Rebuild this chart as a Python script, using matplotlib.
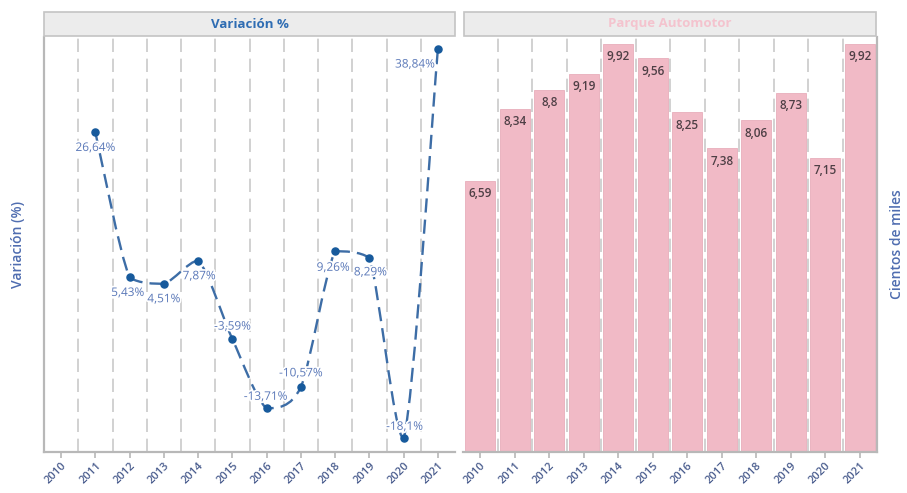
import matplotlib
matplotlib.use("Agg")
import matplotlib.pyplot as plt
import matplotlib.patheffects as pe
from matplotlib.path import Path
from matplotlib.patches import PathPatch, Rectangle

plt.rcParams["font.family"] = ["Open Sans", "DejaVu Sans"]

# ---- data
years = [str(y) for y in range(2010, 2022)]
variation = [None, 26.64, 5.43, 4.51, 7.87, -3.59, -13.71, -10.57, 9.26, 8.29, -18.1, 38.84]
fleet = [6.59, 8.34, 8.8, 9.19, 9.92, 9.56, 8.25, 7.38, 8.06, 8.73, 7.15, 9.92]

W, H = 907, 493
fig = plt.figure(figsize=(W / 100, H / 100), dpi=100)


def box(x0, y0, x1, y1):
    """pixel box (top-left origin) -> figure fraction rect"""
    return [x0 / W, 1 - y1 / H, (x1 - x0) / W, (y1 - y0) / H]


def comma(v):
    return str(v).replace(".", ",")


def smooth_path(xs, ys, k=0.14):
    # bezier through the points, control handles clamped so the curve
    # never goes past the neighbouring values
    verts = [(xs[0], ys[0])]
    codes = [Path.MOVETO]
    n = len(xs)
    for i in range(n - 1):
        x0, y0 = (xs[i - 1], ys[i - 1]) if i > 0 else (xs[i], ys[i])
        x1, y1 = xs[i], ys[i]
        x2, y2 = xs[i + 1], ys[i + 1]
        x3, y3 = (xs[i + 2], ys[i + 2]) if i + 2 < n else (x2, y2)
        lo, hi = min(y1, y2), max(y1, y2)
        c1 = (x1 + (x2 - x0) * k, min(max(y1 + (y2 - y0) * k, lo), hi))
        c2 = (x2 - (x3 - x1) * k, min(max(y2 - (y3 - y1) * k, lo), hi))
        verts += [c1, c2, (x2, y2)]
        codes += [Path.CURVE4] * 3
    return Path(verts, codes)


grid_kw = dict(color="#c9c9c9", lw=1.2, dashes=(8, 4), zorder=1)
tick_color = "#4a5d8e"
spine_color = "#b8b8b8"

# ======================  Variación %  ======================
ax1 = fig.add_axes(box(44, 37, 455, 452))
xs = [i for i, v in enumerate(variation) if v is not None]
ys = [v for v in variation if v is not None]

for b in range(1, len(years)):
    ax1.axvline(b - 0.5, **grid_kw)

line = PathPatch(smooth_path(xs, ys), facecolor="none", edgecolor="#3d6da6",
                 lw=1.7, linestyle=(0, (6, 3)), zorder=3)
ax1.add_patch(line)
ax1.scatter(xs, ys, s=26, color="#175a9c", zorder=4)

label_off = [(0, -15), (-2, -15), (0, -15), (1, -15), (0, 13), (-1, 12),
             (0, 14), (-2, -16), (1, -14), (1, 12), (-23, -15)]
for (x, y), (dx, dy) in zip(zip(xs, ys), label_off):
    ax1.annotate(comma(y) + "%", (x, y), xytext=(dx, dy), textcoords="offset pixels",
                 ha="center", va="center", fontsize=8.5, color="#5a78b8", zorder=5,
                 path_effects=[pe.withStroke(linewidth=2.5, foreground="white")])

ax1.set_xlim(-0.5, len(years) - 0.5)
ax1.set_ylim(-20.1, 40.6)
ax1.set_yticks([])

# ======================  Parque Automotor  ======================
ax2 = fig.add_axes(box(463, 37, 877, 452))
for b in range(1, len(years)):
    ax2.axvline(b - 0.5, **grid_kw)
ax2.bar(range(len(years)), fleet, width=0.88, color="#f1bac6",
        edgecolor="#e8aebb", lw=0.6, zorder=2)
for i, v in enumerate(fleet):
    ax2.annotate(comma(v), (i, v), xytext=(0, -13), textcoords="offset pixels",
                 ha="center", va="center", fontsize=8.5, fontweight="semibold",
                 color="#4e3f45", zorder=5)
ax2.set_xlim(-0.5, len(years) - 0.5)
ax2.set_ylim(0, 10.08)
ax2.set_yticks([])

for ax, shown in ((ax1, ("left", "bottom")), (ax2, ("right", "bottom"))):
    for side, sp in ax.spines.items():
        sp.set_visible(side in shown)
        sp.set_color(spine_color)
        sp.set_linewidth(1.6)
    ax.set_xticks(range(len(years)))
    ax.set_xticklabels(years, rotation=45, ha="right", va="top",
                       rotation_mode="anchor", fontsize=8, fontweight="semibold",
                       color=tick_color)
    ax.tick_params(axis="x", length=4, color=spine_color, width=1.2, pad=2)
    ax.set_facecolor("white")

# ---- panel headers
for (x0, x1), title, col in (((44, 455), "Variación %", "#2f6db3"),
                             ((464, 876), "Parque Automotor", "#f4c3ce")):
    fig.patches.append(Rectangle((x0 / W, 1 - 36 / H), (x1 - x0) / W, 24 / H,
                                 transform=fig.transFigure, facecolor="#ececec",
                                 edgecolor="#c4c4c4", lw=1.2))
    fig.text((x0 + x1) / 2 / W, 1 - 24 / H, title, ha="center", va="center",
             fontsize=9.5, fontweight="bold", color=col)

fig.text(18 / W, 1 - 245 / H, "Variación (%)", rotation=90, ha="center",
         va="center", fontsize=10, fontweight="semibold", color="#4f6db0")
fig.text(897 / W, 1 - 244 / H, "Cientos de miles", rotation=90, ha="center",
         va="center", fontsize=10, fontweight="semibold", color="#4f6db0")

fig.savefig("out.png", dpi=100, facecolor="white")
